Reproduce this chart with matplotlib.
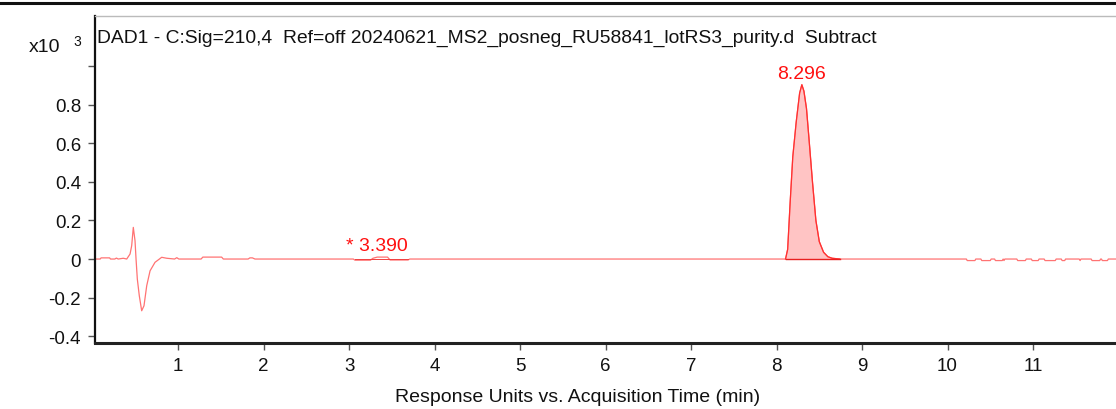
import matplotlib
matplotlib.use("Agg")
import matplotlib.pyplot as plt
from matplotlib.lines import Line2D
import numpy as np

plt.rcParams['font.family'] = ['Liberation Sans', 'DejaVu Sans']

# ---- data (time in min, response x10^3) ----
time_min = [0.03, 0.09, 0.10, 0.20, 0.21, 0.26, 0.28, 0.30, 0.36, 0.40, 0.439, 0.458, 0.477,
            0.497, 0.509, 0.524, 0.547, 0.575, 0.602, 0.634, 0.673, 0.731, 0.809, 0.868,
            0.96, 0.985, 1.01, 1.27, 1.29, 1.51, 1.53, 1.82, 1.84, 1.87, 1.90,
            3.05, 3.07, 3.25, 3.28, 3.33, 3.45, 3.48, 3.69, 3.71,
            8.105, 8.13, 8.16, 8.19, 8.23, 8.27, 8.296, 8.32, 8.35, 8.38, 8.42, 8.46, 8.50,
            8.55, 8.60, 8.65, 8.74,
            10.22, 10.23, 10.32, 10.33, 10.39, 10.40, 10.50, 10.51, 10.55, 10.56, 10.64, 10.65,
            10.66, 10.67, 10.68, 10.81, 10.82, 10.91, 10.92, 10.98, 10.99, 11.06, 11.07,
            11.13, 11.14, 11.26, 11.27, 11.33, 11.34, 11.37, 11.38, 11.54, 11.55, 11.56,
            11.68, 11.69, 11.78, 11.79, 11.80, 11.81, 11.87, 11.88, 11.97]
response = [0.0, 0.0, 0.006, 0.006, 0.0, 0.0, 0.005, 0.0, 0.004, 0.0, 0.026, 0.069, 0.164,
            0.095, 0.0, -0.104, -0.19, -0.268, -0.242, -0.138, -0.061, -0.017, 0.009, 0.004,
            0.0, 0.007, 0.0, 0.0, 0.01, 0.01, 0.0, 0.0, 0.006, 0.006, 0.0,
            0.0, -0.006, -0.006, 0.004, 0.01, 0.01, -0.005, -0.005, 0.0,
            0.0, 0.05, 0.30, 0.53, 0.71, 0.86, 0.903, 0.87, 0.78, 0.62, 0.40, 0.20, 0.09,
            0.035, 0.012, 0.004, 0.0,
            0.0, -0.008, -0.008, 0.0, 0.0, -0.008, -0.008, 0.0, 0.0, -0.008, -0.008, 0.0,
            -0.008, 0.0, 0.0, 0.0, -0.008, -0.008, 0.0, 0.0, -0.008, -0.008, 0.0,
            0.0, -0.008, -0.008, 0.0, 0.0, -0.008, -0.008, 0.0, 0.0, -0.008, 0.0,
            0.0, -0.008, -0.008, 0.0, 0.0, -0.008, -0.008, 0.0, 0.0]

peak_labels = ["* 3.390", "8.296"]
peak_label_x = [3.39, 8.296]
peak_label_y = [0.01, 0.903]
main_peak_range = (8.105, 8.74)
minor_peak_range = (3.07, 3.69)

x_ticks = list(range(1, 12))
y_ticks = [-0.4, -0.2, 0, 0.2, 0.4, 0.6, 0.8, 1.0]
y_tick_labels = ["-0.4", "-0.2", "0", "0.2", "0.4", "0.6", "0.8", ""]

title = "DAD1 - C:Sig=210,4  Ref=off 20240621_MS2_posneg_RU58841_lotRS3_purity.d  Subtract"
xlabel = "Response Units vs. Acquisition Time (min)"

# ---- figure ----
W, H = 1116, 410
fig = plt.figure(figsize=(W / 100, H / 100), dpi=100)
ax = fig.add_axes([95 / W, 1 - 344 / H, 1 - 95 / W, (344 - 17) / H])

t = np.array(time_min)
r = np.array(response)
line_color = "#ff5a5a"
ax.plot(t, r, color=line_color, lw=0.9, alpha=0.85, solid_joinstyle="round")

mask = (t >= main_peak_range[0]) & (t <= main_peak_range[1])
ax.fill_between(t[mask], 0, r[mask], color="#ffc4c4", lw=0)
ax.plot(t[mask], r[mask], color="#ff3030", lw=0.9)
ax.plot(main_peak_range, [0, 0], color="#e82020", lw=1.0)
ax.plot(minor_peak_range, [0, 0], color="#f04040", lw=0.7)

label_offsets = [(-4, 2), (0, 2)]
for lab, lx, ly, off in zip(peak_labels, peak_label_x, peak_label_y, label_offsets):
    ax.annotate(lab, (lx, ly), xytext=off, textcoords="offset points",
                ha="center", va="bottom", color="#ff1010", fontsize=14)

ax.set_xlim(0.029, 11.97)
ax.set_ylim(-0.435, 1.259)
ax.set_xticks(x_ticks)
ax.set_xticklabels([str(v) for v in x_ticks])
ax.set_yticks(y_ticks)
ax.set_yticklabels(y_tick_labels)
ax.tick_params(direction="out", length=5, width=1, colors="#555555",
               labelcolor="#111111", labelsize=13.5, pad=5)

ax.spines["right"].set_visible(False)
ax.spines["top"].set_color("#bbbbbb")
ax.spines["top"].set_linewidth(1.0)
ax.spines["left"].set_linewidth(1.6)
ax.spines["left"].set_color("#111111")
ax.spines["bottom"].set_linewidth(2.2)
ax.spines["bottom"].set_color("#222222")

ax.text(2 / (W - 95), 1 - 21 / (344 - 17), title, transform=ax.transAxes,
        ha="left", va="center", fontsize=13.9, color="#111111")

fig.text(29 / W, 1 - 47 / H, "x10", ha="left", va="center", fontsize=14, color="#111111")
fig.text(73 / W, 1 - 42 / H, "3", ha="left", va="center", fontsize=10, color="#111111")
fig.text(578 / W, 1 - 398 / H, xlabel, ha="center", va="center", fontsize=14, color="#111111")

fig.add_artist(Line2D([0, 1], [1 - 4 / H, 1 - 4 / H], color="#111111", lw=2.2,
                      transform=fig.transFigure))

fig.savefig("out.png", dpi=100)
